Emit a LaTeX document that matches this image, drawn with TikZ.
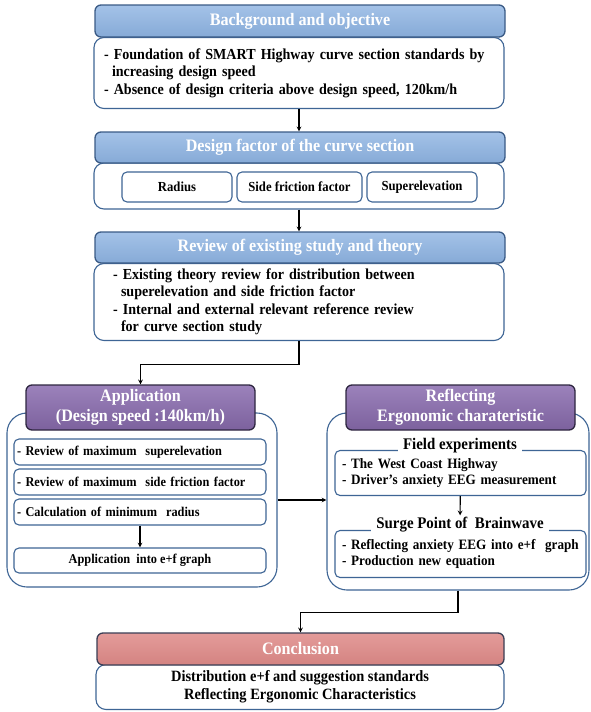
\documentclass[tikz,border=0pt]{standalone}
\usepackage{fontspec}
\setmainfont[FakeStretch=0.92]{Liberation Serif}
\usepackage{xcolor}
\usepackage{tikz}
\usetikzlibrary{shapes,positioning}
\definecolor{hdblue}{HTML}{8DB3E2}
\definecolor{hdblueline}{HTML}{3A5A85}
\definecolor{bodyline}{HTML}{3E6595}
\definecolor{hdpurple}{HTML}{8A6CAF}
\definecolor{hdpurpleline}{HTML}{2E2640}
\definecolor{hdred}{HTML}{DF8A88}
\definecolor{hdredline}{HTML}{3A3E55}
\tikzset{hdr/.style={rectangle,rounded corners=6pt,draw=hdblueline,line width=1.3pt,top color=hdblue!80!white,bottom color=hdblue!95!black,text=white,font=\bfseries\fontsize{17.5}{20}\selectfont,align=center,inner sep=0pt}}
\tikzset{bdy/.style={rectangle,rounded corners=10pt,draw=bodyline,line width=1.1pt,fill=white,font=\bfseries\fontsize{15.3}{17.5}\selectfont}}
\tikzset{sub/.style={rectangle,rounded corners=5pt,draw=bodyline,line width=1.1pt,fill=white,font=\bfseries\fontsize{13.8}{15}\selectfont}}
\tikzset{ttl/.style={fill=white,inner xsep=5pt,inner ysep=2pt,font=\bfseries\fontsize{16.2}{17}\selectfont}}
\tikzset{cn/.style={->,line width=1.1pt}}

\begin{document}
\begin{tikzpicture}[>=stealth,x=1pt,y=-1pt]
    \useasboundingbox (0,0) rectangle (590,712);

    % background and objective
    \node[bdy,minimum width=410pt,minimum height=71pt,text width=390pt,inner xsep=10pt,align=left] (bgb) at (299,73) {- Foundation of SMART Highway curve section standards by\\\hspace*{8pt}increasing design speed\\- Absence of design criteria above design speed, 120km/h};
    \node[hdr,minimum width=410pt,minimum height=32pt] (bgh) at (300,21) {Background and objective};

    % design factor
    \node[bdy,minimum width=410pt,minimum height=46pt] (dfb) at (299,186) {};
    \node[hdr,minimum width=410pt,minimum height=31pt] (dfh) at (300,147.5) {Design factor of the curve section};
    \node[sub,minimum width=110pt,minimum height=30pt] (rad) at (177,187) {Radius};
    \node[sub,minimum width=125pt,minimum height=30pt] (sff) at (299.5,187) {Side friction factor};
    \node[sub,minimum width=110pt,minimum height=30pt] (sup) at (422,187) {Superelevation};

    % review
    \node[bdy,minimum width=410pt,minimum height=77pt,text width=372pt,inner xsep=19pt,align=left] (rvb) at (299,302) {- Existing theory review for distribution between\\\hspace*{8pt}superelevation and side friction factor\\- Internal and external relevant reference review\\\hspace*{8pt}for curve section study};
    \node[hdr,minimum width=410pt,minimum height=31pt] (rvh) at (300,247.5) {Review of existing study and theory};

    % application
    \node[bdy,rounded corners=20pt,minimum width=270pt,minimum height=174pt] (apb) at (142,500) {};
    \node[hdr,draw=hdpurpleline,top color=hdpurple!85!white,bottom color=hdpurple!90!black,minimum width=229pt,minimum height=45pt] (aph) at (140.5,407.5) {Application\\(Design speed :140km/h)};
    \node[sub,minimum width=252pt,minimum height=26pt,text width=246pt,inner xsep=3pt,align=left,font=\bfseries\fontsize{13.4}{15}\selectfont] (ap1) at (140,452) {- Review of maximum\ \ superelevation};
    \node[sub,minimum width=252pt,minimum height=26pt,text width=246pt,inner xsep=3pt,align=left,font=\bfseries\fontsize{13.4}{15}\selectfont] (ap2) at (140,482) {- Review of maximum\ \ side friction factor};
    \node[sub,minimum width=252pt,minimum height=26pt,text width=246pt,inner xsep=3pt,align=left,font=\bfseries\fontsize{13.4}{15}\selectfont] (ap3) at (140,512) {- Calculation of minimum\ \ radius};
    \node[sub,minimum width=252pt,minimum height=25pt,font=\bfseries\fontsize{13.4}{15}\selectfont] (ap4) at (140,560.5) {Application\ \ into e+f graph};

    % reflecting ergonomic
    \node[bdy,rounded corners=20pt,minimum width=262pt,minimum height=177pt] (rfb) at (458,501.5) {};
    \node[hdr,draw=hdpurpleline,top color=hdpurple!85!white,bottom color=hdpurple!90!black,minimum width=229pt,minimum height=45pt] (rfh) at (460.5,407.5) {Reflecting\\Ergonomic charateristic};
    \node[sub,minimum width=251pt,minimum height=45pt,text width=237pt,inner xsep=7pt,align=left,font=\bfseries\fontsize{14.3}{15.5}\selectfont] (fld) at (460.5,473) {- The West Coast Highway\\- Driver’s anxiety EEG measurement};
    \node[ttl] (fldt) at (460,446) {Field experiments};
    \node[sub,minimum width=251pt,minimum height=47pt,text width=237pt,inner xsep=7pt,align=left,font=\bfseries\fontsize{14.3}{15.5}\selectfont] (srg) at (460.5,554) {- Reflecting anxiety EEG into e+f\ \ graph\\- Production new equation};
    \node[ttl] (srgt) at (460,525) {Surge Point of\ \ Brainwave};

    % conclusion
    \node[bdy,minimum width=408pt,minimum height=45pt,align=center,font=\bfseries\fontsize{15.7}{18}\selectfont] (cnb) at (300,687) {Distribution e+f and suggestion standards\\Reflecting Ergonomic Characteristics};
    \node[hdr,draw=hdredline,top color=hdred!85!white,bottom color=hdred!95!black,minimum width=407pt,minimum height=32pt] (cnh) at (300.5,649) {Conclusion};

    \draw [cn] (bgb.south) -- (bgb.south |- dfh.north);
    \draw [cn] (dfb.south) -- (dfb.south |- rvh.north);
    \draw [cn] (rvb.south) -- ++(0,23) -| (aph.north);
    \draw [cn] (ap3) -- (ap4);
    \draw [cn] (apb.east) -- (apb.east -| rfb.west);
    \draw [cn] (fld) -- (srgt);
    \draw [cn] (rfb.south) -- ++(0,22) -| (cnh.north);
\end{tikzpicture}
\end{document}
